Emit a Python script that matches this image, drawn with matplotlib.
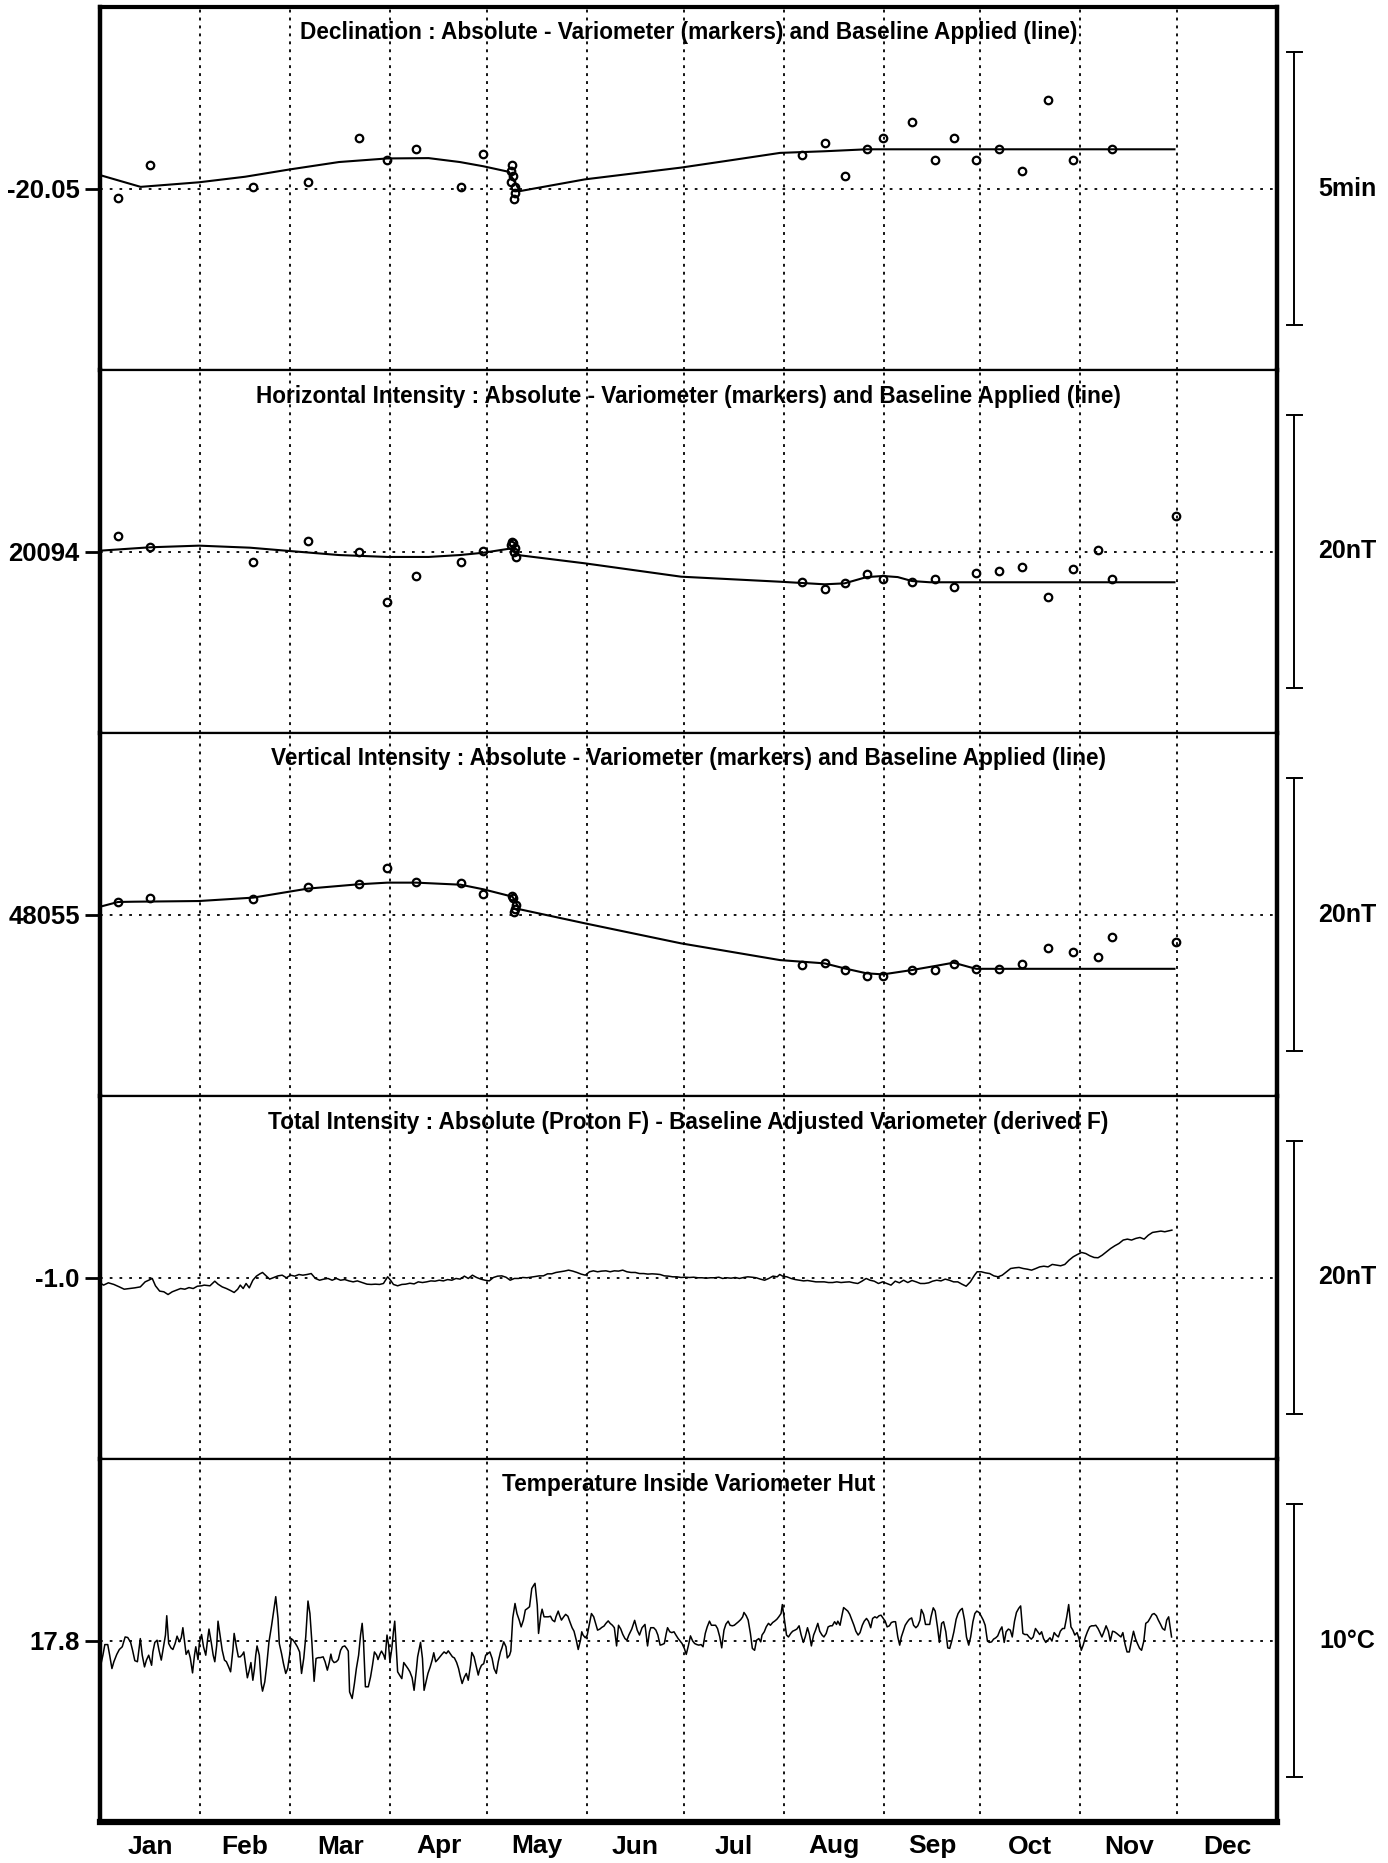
import matplotlib
matplotlib.use("Agg")
import matplotlib.pyplot as plt
import matplotlib.transforms as mtransforms

plt.rcParams['font.family'] = ['Liberation Sans', 'DejaVu Sans']
plt.rcParams['font.weight'] = 'bold'

months = ['Jan', 'Feb', 'Mar', 'Apr', 'May', 'Jun',
          'Jul', 'Aug', 'Sep', 'Oct', 'Nov', 'Dec']
month_starts = [0, 31, 59, 90, 120, 151, 181, 212, 243, 273, 304, 334, 365]

# Declination (degrees): absolute - variometer and applied baseline
d_days = [5.6, 15.6, 47.5, 64.4, 80.2, 89.1, 98.1, 111.8, 118.9,
          127.9, 127.6, 128.2, 127.4, 128.6, 128.7, 128.4,
          217.7, 224.7, 230.9, 237.7, 242.8, 251.8, 258.8, 264.7, 271.8,
          278.8, 285.8, 293.9, 301.7, 313.8]
d_vals = [-20.0530, -20.0429, -20.0496, -20.0479, -20.0346, -20.0413, -20.0380, -20.0496, -20.0395,
          -20.0429, -20.0446, -20.0462, -20.0479, -20.0496, -20.0513, -20.0531,
          -20.0396, -20.0362, -20.0462, -20.0380, -20.0345, -20.0296, -20.0413, -20.0345, -20.0413,
          -20.0380, -20.0446, -20.0228, -20.0413, -20.0380]
db_days = [0, 12.6, 30.7, 45.0, 58.6, 74.1, 89.1, 101.9, 111.6, 118.9, 126.8, 130.2,
           150.4, 180.2, 196.0, 210.9, 224.7, 237.8, 333.2]
db_vals = [-20.0459, -20.0495, -20.0481, -20.0464, -20.0442, -20.0419, -20.0408, -20.0407,
           -20.0419, -20.0432, -20.0449, -20.0508, -20.0472, -20.0436, -20.0413, -20.0391,
           -20.0386, -20.0380, -20.0380]

# Horizontal intensity (nT)
h_days = [5.6, 15.6, 47.5, 64.4, 80.2, 89.1, 98.1, 111.8, 118.9,
          127.9, 128.2, 127.6, 128.6, 128.4, 128.9,
          217.7, 224.7, 230.9, 237.7, 242.8, 251.8, 258.8, 264.7, 271.8,
          278.8, 285.8, 293.9, 301.7, 309.5, 313.8, 333.8]
h_vals = [20095.12, 20094.31, 20093.21, 20094.77, 20093.94, 20090.29, 20092.18, 20093.21, 20094.04,
          20094.72, 20094.60, 20094.46, 20094.28, 20093.99, 20093.62,
          20091.78, 20091.26, 20091.71, 20092.32, 20092.00, 20091.78, 20092.00, 20091.37, 20092.40,
          20092.59, 20092.86, 20090.68, 20092.69, 20094.09, 20092.00, 20096.59]
hb_days = [0, 15.6, 30.7, 46.5, 58.6, 74.1, 89.1, 101.9, 111.6, 118.9, 127.9, 129.6,
           150.4, 180.2, 210.9, 224.7, 230.9, 237.7, 242.8, 247.4, 251.8, 257.3, 333.2]
hb_vals = [20094.06, 20094.31, 20094.43, 20094.28, 20094.04, 20093.74, 20093.60, 20093.60,
           20093.74, 20093.91, 20094.24, 20093.74, 20093.13, 20092.15, 20091.78, 20091.59,
           20091.66, 20092.12, 20092.20, 20092.12, 20091.83, 20091.74, 20091.74]

# Vertical intensity (nT)
z_days = [5.6, 15.6, 47.5, 64.4, 80.2, 89.1, 98.1, 111.8, 118.9,
          127.9, 128.2, 129.0, 128.6, 128.4,
          217.7, 224.7, 230.9, 237.7, 242.8, 251.8, 258.8, 264.7, 271.8,
          278.8, 285.8, 293.9, 301.7, 309.5, 313.8, 333.8]
z_vals = [48055.92, 48056.24, 48056.12, 48057.02, 48057.24, 48058.42, 48057.39, 48057.32, 48056.51,
          48056.38, 48056.24, 48055.72, 48055.38, 48055.21,
          48051.31, 48051.46, 48050.92, 48050.48, 48050.48, 48050.92, 48050.92, 48051.34, 48051.01,
          48051.01, 48051.34, 48052.51, 48052.24, 48051.90, 48053.32, 48053.00]
zb_days = [0, 5.6, 10.5, 30.7, 47.5, 64.4, 80.2, 89.1, 98.1, 111.8, 118.9, 127.9, 130.2,
           150.4, 180.2, 210.9, 224.7, 230.9, 237.7, 242.8, 251.8, 258.8, 264.7, 269.9, 271.8, 333.2]
zb_vals = [48055.57, 48055.92, 48055.94, 48055.99, 48056.24, 48056.90, 48057.22, 48057.34,
           48057.34, 48057.19, 48056.85, 48056.31, 48055.38, 48054.35, 48052.88, 48051.65,
           48051.41, 48051.04, 48050.68, 48050.60, 48050.92, 48051.21, 48051.46, 48051.12,
           48051.01, 48051.01]

# Total intensity difference (nT)
f_days = [0.0, 1.1, 2.6, 4.3, 6.0, 7.5, 9.1, 10.8, 12.5, 14.0,
          15.1, 16.2, 17.2, 18.5, 19.8, 21.1, 22.4, 23.7, 25.0, 26.3,
          27.6, 28.9, 30.2, 31.5, 32.3, 34.1, 35.6, 36.6, 37.9, 39.2,
          40.5, 41.6, 42.7, 43.5, 44.4, 45.3, 46.3, 47.4, 48.5, 49.6,
          50.4, 51.3, 52.6, 53.9, 55.2, 56.5, 57.8, 59.1, 60.4, 61.7,
          62.9, 64.2, 65.5, 66.8, 68.1, 69.4, 70.7, 72.0, 73.3, 74.6,
          75.9, 77.2, 78.5, 79.8, 81.5, 82.8, 84.1, 85.4, 86.7, 87.9,
          89.2, 90.1, 91.0, 92.3, 93.6, 94.8, 96.1, 97.4, 98.7, 100.0,
          101.3, 102.6, 103.9, 105.2, 106.5, 107.8, 109.1, 110.4, 111.7, 113.0,
          114.2, 115.5, 116.8, 118.1, 119.4, 120.7, 122.0, 123.3, 124.6, 125.9,
          127.2, 128.5, 129.8, 131.1, 132.4, 133.6, 134.9, 136.2, 137.5, 138.8,
          140.1, 141.4, 142.7, 144.0, 145.3, 146.6, 147.9, 149.2, 150.5, 151.8,
          153.0, 154.3, 155.6, 156.9, 158.2, 159.5, 160.8, 162.1, 163.4, 164.7,
          166.0, 167.3, 168.6, 169.9, 171.2, 172.5, 173.7, 175.0, 176.3, 177.6,
          178.9, 180.2, 181.5, 182.8, 184.1, 185.4, 186.7, 188.0, 189.3, 190.6,
          191.9, 193.1, 194.4, 195.7, 197.0, 198.3, 199.6, 200.9, 202.2, 203.5,
          204.8, 206.1, 207.4, 208.7, 210.0, 210.8, 211.7, 213.0, 214.3, 215.6,
          216.9, 218.2, 219.4, 220.7, 222.0, 223.3, 224.6, 225.9, 227.2, 228.5,
          229.8, 231.1, 232.4, 233.7, 235.0, 236.3, 237.6, 238.8, 240.1, 241.4,
          242.7, 244.0, 245.3, 246.6, 247.9, 249.2, 250.5, 251.8, 253.1, 254.4,
          255.7, 257.0, 258.2, 259.5, 260.8, 262.1, 263.4, 264.7, 266.0, 267.3,
          268.6, 269.9, 271.2, 272.0, 273.3, 274.6, 275.9, 277.2, 278.5, 279.8,
          281.1, 282.4, 283.7, 285.0, 286.3, 287.6, 288.9, 290.2, 291.4, 292.7,
          294.0, 295.3, 296.6, 297.9, 299.2, 300.5, 301.8, 303.1, 304.4, 305.7,
          307.0, 308.3, 309.5, 310.8, 312.1, 313.4, 314.7, 316.0, 317.3, 318.6,
          319.9, 321.2, 322.5, 323.8, 325.1, 326.4, 327.7, 329.0, 330.2, 331.5,
          332.4]
f_vals = [-1.39, -1.56, -1.39, -1.51, -1.69, -1.86, -1.81, -1.76, -1.69, -1.32,
          -1.20, -1.07, -1.61, -2.00, -2.05, -2.25, -2.05, -1.93, -1.81, -1.86,
          -1.74, -1.81, -1.64, -1.61, -1.56, -1.61, -1.27, -1.49, -1.69, -1.81,
          -1.96, -2.10, -1.86, -1.56, -1.81, -1.44, -1.76, -1.20, -0.90, -0.73,
          -0.63, -0.83, -1.12, -1.00, -0.88, -0.83, -1.02, -0.83, -0.90, -0.78,
          -0.83, -0.78, -0.71, -1.07, -1.20, -1.12, -1.07, -1.20, -1.07, -1.20,
          -1.15, -1.25, -1.32, -1.25, -1.39, -1.49, -1.51, -1.49, -1.51, -1.44,
          -0.95, -1.20, -1.51, -1.61, -1.51, -1.49, -1.42, -1.47, -1.32, -1.37,
          -1.32, -1.25, -1.27, -1.20, -1.25, -1.15, -1.20, -1.07, -1.12, -0.90,
          -1.07, -0.83, -1.00, -1.12, -1.20, -1.25, -1.00, -0.90, -0.88, -0.98,
          -1.20, -1.07, -1.07, -1.00, -1.02, -0.98, -0.93, -0.88, -0.88, -0.73,
          -0.73, -0.63, -0.58, -0.53, -0.46, -0.53, -0.63, -0.75, -0.83, -0.58,
          -0.51, -0.58, -0.53, -0.51, -0.58, -0.51, -0.53, -0.46, -0.58, -0.63,
          -0.63, -0.71, -0.71, -0.75, -0.73, -0.75, -0.78, -0.88, -0.90, -0.95,
          -0.95, -1.00, -0.98, -1.00, -0.98, -1.02, -1.02, -1.05, -1.02, -1.02,
          -0.98, -1.07, -1.02, -1.05, -1.00, -1.07, -1.00, -0.95, -0.98, -1.02,
          -1.12, -1.20, -1.07, -0.90, -0.95, -0.78, -0.90, -0.95, -1.07, -1.15,
          -1.20, -1.25, -1.22, -1.27, -1.32, -1.32, -1.32, -1.37, -1.37, -1.32,
          -1.37, -1.34, -1.32, -1.39, -1.44, -1.27, -1.07, -1.20, -1.27, -1.44,
          -1.32, -1.44, -1.56, -1.27, -1.39, -1.20, -1.37, -1.22, -1.32, -1.44,
          -1.44, -1.39, -1.27, -1.20, -1.25, -1.12, -1.20, -1.32, -1.32, -1.49,
          -1.64, -1.32, -0.83, -0.58, -0.58, -0.66, -0.71, -0.88, -0.95, -0.83,
          -0.58, -0.34, -0.29, -0.26, -0.34, -0.39, -0.46, -0.34, -0.22, -0.17,
          -0.22, -0.04, -0.09, -0.14, -0.04, 0.27, 0.52, 0.69, 0.84, 0.76,
          0.59, 0.47, 0.45, 0.64, 0.89, 1.13, 1.33, 1.50, 1.75, 1.82,
          1.75, 1.87, 1.94, 1.82, 2.11, 2.31, 2.36, 2.41, 2.36, 2.43,
          2.48]

# Temperature inside variometer hut (deg C)
t_days = [0.0, 0.9, 1.5, 2.4, 3.0, 3.7, 4.3, 5.2, 6.0, 6.9,
          7.8, 8.6, 9.5, 10.1, 10.8, 11.6, 12.5, 13.1, 13.8, 14.4,
          15.1, 16.0, 16.4, 17.0, 17.7, 18.3, 19.0, 19.6, 20.3, 20.7,
          21.3, 22.0, 22.6, 23.3, 23.9, 24.6, 25.2, 25.7, 26.1, 26.7,
          27.4, 28.0, 28.7, 29.3, 29.7, 30.4, 30.8, 31.5, 32.1, 32.8,
          33.4, 33.8, 34.5, 35.1, 35.6, 36.2, 36.6, 37.3, 37.9, 38.6,
          39.2, 39.9, 40.5, 41.2, 41.6, 42.3, 42.9, 43.5, 44.2, 44.6,
          45.1, 45.7, 46.3, 46.8, 47.4, 47.9, 48.3, 48.7, 49.4, 50.0,
          50.4, 51.1, 51.7, 52.4, 53.2, 53.9, 54.5, 55.2, 55.6, 56.3,
          56.9, 57.6, 58.2, 58.8, 59.3, 59.9, 60.6, 61.2, 61.9, 62.5,
          63.2, 63.8, 64.5, 65.1, 65.7, 66.4, 67.0, 67.7, 68.3, 69.2,
          69.8, 70.5, 71.1, 71.6, 72.0, 72.6, 73.3, 73.9, 74.6, 75.2,
          75.9, 76.5, 77.0, 77.4, 78.2, 78.9, 79.5, 80.2, 80.8, 81.3,
          81.7, 82.3, 83.2, 83.9, 84.5, 85.1, 85.8, 86.2, 86.9, 87.3,
          88.0, 88.4, 89.0, 89.5, 89.9, 90.5, 91.0, 91.4, 91.8, 92.3,
          92.9, 93.6, 94.2, 94.8, 95.5, 96.1, 96.8, 97.4, 98.1, 98.5,
          98.9, 99.4, 100.0, 100.5, 101.1, 101.7, 102.4, 103.0, 103.5, 104.1,
          104.8, 105.4, 106.1, 106.7, 107.4, 108.0, 108.6, 109.3, 109.9, 110.6,
          111.2, 111.7, 112.3, 113.0, 113.6, 114.2, 114.9, 115.3, 116.0, 116.6,
          117.3, 117.7, 118.3, 119.0, 119.6, 120.3, 120.9, 121.6, 122.2, 122.9,
          123.5, 124.2, 124.6, 125.2, 125.9, 126.3, 127.0, 127.4, 128.0, 128.7,
          129.3, 130.0, 130.6, 131.3, 131.9, 132.6, 133.2, 133.9, 134.5, 134.9,
          135.6, 136.0, 136.7, 137.1, 137.7, 138.4, 139.0, 139.7, 140.3, 141.0,
          141.4, 142.1, 142.5, 143.1, 143.8, 144.4, 145.1, 145.7, 146.4, 147.0,
          147.7, 148.3, 149.0, 149.4, 149.8, 150.5, 151.1, 151.8, 152.4, 153.1,
          153.7, 154.3, 155.0, 155.6, 156.3, 156.9, 157.6, 158.2, 158.9, 159.5,
          160.2, 160.8, 161.5, 162.1, 162.8, 163.4, 164.0, 164.9, 165.8, 166.6,
          167.3, 168.1, 169.0,
          169.8, 170.4, 170.8, 171.7, 172.4, 173.0, 173.7, 174.3, 175.0, 175.6,
          176.0, 176.7, 177.3, 178.0, 178.6, 179.3, 179.9, 180.5, 181.2, 181.8,
          182.5, 183.1, 183.8, 184.4, 185.1, 185.7, 186.4, 187.0, 187.7, 188.3,
          189.0, 189.6, 190.2, 190.9, 191.5, 192.2, 192.8, 193.5, 194.1, 194.8,
          195.4, 196.1, 196.7, 197.4, 198.0, 198.7, 199.3, 199.7, 200.4, 201.0,
          201.7, 202.3, 203.0, 203.6, 204.3, 204.9, 205.3, 206.0, 206.6, 207.3,
          207.9, 208.6, 209.2, 209.9, 210.5, 211.2, 211.6, 212.2, 212.9, 213.5,
          214.2, 214.8, 215.5, 216.1, 216.8, 217.4, 218.1, 218.7, 219.4, 220.0,
          220.6, 221.3, 221.9, 222.6, 223.2, 223.9, 224.5, 225.2, 225.8, 226.5,
          227.1, 227.8, 228.4, 228.8, 229.5, 229.9, 230.6, 231.2, 231.9, 232.5,
          233.1, 233.8, 234.4, 235.1, 235.7, 236.4, 237.0, 237.7, 238.3, 239.0,
          239.6, 240.3, 240.9, 241.6, 242.2, 242.8, 243.5, 244.1, 244.8, 245.4,
          246.1, 246.7, 247.4, 248.0, 248.5, 249.1, 249.7, 250.4, 251.0, 251.7,
          252.3, 253.0, 253.6, 254.3, 254.7, 255.4, 256.0, 256.6, 257.3, 257.7,
          258.4, 259.0, 259.7, 260.3, 261.0, 261.6, 262.3, 262.9, 263.5, 264.2,
          264.8, 265.5, 266.1, 266.8, 267.4, 268.1, 268.7, 269.4, 270.0, 270.7,
          271.3, 271.9, 272.6, 273.2, 273.9, 274.5, 275.2, 275.8, 276.5, 277.1,
          277.8, 278.4, 279.1, 279.7, 280.4, 281.0, 281.7, 282.3, 282.9, 283.6,
          284.2, 284.9, 285.5, 286.2, 286.8, 287.5, 288.1, 288.8, 289.4, 290.1,
          290.7, 291.4, 292.0, 292.6, 293.3, 293.9, 294.6, 295.2, 295.9, 296.5,
          297.2, 297.8, 298.5, 299.1, 299.8, 300.4, 301.1, 301.7, 302.3, 303.0,
          303.6, 304.3, 304.9, 305.6, 306.2, 306.9, 307.5, 308.2, 308.8, 309.5,
          310.1, 310.7, 311.4, 312.0, 312.7, 313.3, 314.0, 314.6, 315.3, 315.9,
          316.6, 317.2, 317.9, 318.5, 319.2, 319.8, 320.5, 321.1, 321.7, 322.4,
          323.0, 323.7, 324.3, 325.0, 325.6, 326.3, 326.9, 327.6, 328.2, 328.9,
          329.5, 330.2, 330.8, 331.4, 332.1, 332.3]
t_vals = [16.77, 17.26, 17.65, 17.65, 17.26, 16.77, 17.02, 17.29, 17.47, 17.57,
          17.93, 17.91, 17.73, 17.44, 17.06, 17.02, 17.87, 17.26, 16.83, 17.08,
          17.26, 16.89, 17.38, 17.73, 17.81, 17.44, 17.08, 17.51, 18.00, 18.71,
          17.69, 17.53, 17.47, 17.69, 17.96, 17.75, 17.90, 18.27, 17.87, 17.29,
          17.44, 17.16, 16.61, 17.26, 17.57, 17.10, 17.69, 18.02, 17.57, 17.26,
          17.87, 18.22, 17.73, 17.26, 17.02, 17.63, 18.51, 17.93, 17.44, 17.08,
          17.02, 16.83, 16.65, 17.44, 18.06, 17.57, 17.20, 17.20, 17.29, 17.38,
          16.95, 16.43, 16.71, 16.99, 16.34, 16.77, 17.26, 17.60, 17.26, 16.22,
          15.94, 16.28, 16.89, 17.75, 18.34, 18.92, 19.41, 18.61, 17.69, 17.32,
          16.95, 16.59, 16.77, 17.26, 17.87, 17.81, 17.69, 17.57, 17.38, 16.59,
          17.16, 17.93, 19.25, 18.79, 17.75, 16.30, 17.14, 17.17, 17.17, 17.20,
          17.02, 16.71, 16.99, 17.30, 17.08, 16.99, 17.02, 17.10, 17.44, 17.57,
          17.60, 17.51, 17.41, 15.91, 15.67, 16.22, 16.77, 17.26, 18.00, 18.43,
          17.81, 16.10, 16.10, 16.46, 16.89, 17.38, 17.26, 17.10, 17.32, 17.41,
          17.26, 17.11, 18.00, 17.63, 17.02, 17.51, 18.12, 18.51, 17.69, 16.65,
          16.53, 16.40, 16.99, 16.89, 16.77, 16.65, 16.43, 15.97, 16.71, 17.20,
          17.44, 17.73, 17.14, 15.97, 16.28, 16.59, 16.83, 17.08, 17.35, 17.02,
          17.11, 17.20, 17.30, 17.38, 17.32, 17.42, 17.32, 17.20, 17.16, 16.99,
          16.77, 16.50, 16.22, 16.46, 16.59, 16.34, 16.89, 17.36, 17.20, 16.89,
          16.53, 16.73, 16.89, 16.95, 17.26, 17.32, 17.38, 17.14, 16.77, 16.59,
          17.02, 17.38, 17.51, 17.75, 17.57, 17.16, 17.26, 17.41, 18.63, 19.16,
          18.79, 18.55, 18.30, 18.55, 18.92, 18.98, 19.04, 19.71, 19.83, 19.90,
          19.10, 18.06, 18.73, 18.95, 18.67, 18.67, 18.67, 18.69, 18.55, 18.49,
          18.67, 18.88, 18.73, 18.55, 18.67, 18.76, 18.69, 18.49, 18.27, 18.14,
          17.81, 17.47, 17.81, 18.12, 18.00, 17.90, 18.00, 18.43, 18.79, 18.67,
          18.43, 18.18, 18.22, 18.28, 18.33, 18.43, 18.52, 18.43, 18.36, 18.27,
          17.60, 18.36, 18.22, 18.03, 17.87, 17.81, 18.00, 18.22, 18.54, 18.18,
          18.00, 18.27, 18.39,
          17.60, 18.12, 18.27, 18.27, 18.18, 18.00, 17.63, 17.65, 17.69, 18.06,
          18.27, 18.12, 18.09, 18.12, 18.00, 17.87, 17.78, 17.69, 17.51, 17.29,
          17.63, 17.97, 17.78, 17.69, 17.65, 17.63, 17.65, 17.57, 18.06, 18.30,
          18.51, 18.36, 18.36, 18.36, 18.24, 17.93, 17.53, 18.18, 18.40, 18.51,
          18.36, 18.34, 18.36, 18.43, 18.49, 18.57, 18.67, 18.83, 18.71, 18.55,
          18.06, 17.51, 17.44, 17.81, 17.87, 17.75, 18.00, 18.12, 18.30, 18.43,
          18.36, 18.46, 18.51, 18.58, 18.67, 18.79, 19.12, 18.61, 18.00, 17.93,
          18.06, 18.14, 18.18, 18.22, 18.34, 18.02, 17.73, 17.93, 18.27, 18.02,
          17.60, 18.00, 18.18, 18.43, 18.14, 18.00, 17.93, 18.06, 18.30, 18.34,
          18.34, 18.49, 18.39, 18.51, 18.36, 18.61, 19.01, 18.95, 18.88, 18.76,
          18.58, 18.36, 18.14, 18.00, 18.09, 18.36, 18.51, 18.61, 18.51, 18.27,
          18.61, 18.67, 18.63, 18.71, 18.73, 18.63, 18.51, 18.30, 18.34, 18.46,
          18.49, 18.49, 17.93, 17.63, 17.93, 18.14, 18.36, 18.49, 18.58, 18.63,
          18.36, 18.27, 18.34, 18.55, 18.94, 18.76, 18.39, 18.39, 18.39, 18.67,
          19.00, 18.88, 18.30, 17.73, 18.43, 18.49, 18.12, 17.53, 17.51, 17.81,
          18.12, 18.58, 18.79, 18.92, 18.98, 18.55, 17.93, 17.63, 17.93, 18.49,
          18.79, 18.88, 18.83, 18.71, 18.55, 18.36, 17.78, 17.73, 17.75, 17.85,
          17.90, 17.97, 18.18, 18.30, 17.73, 18.12, 18.22, 18.18, 17.93, 18.51,
          18.83, 18.98, 19.07, 18.06, 18.02, 18.02, 17.93, 17.85, 17.93, 18.24,
          18.14, 18.02, 18.12, 17.87, 17.73, 17.81, 17.90, 17.78, 18.09, 18.00,
          17.93, 18.14, 18.24, 18.24, 18.67, 19.12, 18.30, 18.18, 18.00, 18.09,
          17.87, 17.44, 17.63, 17.93, 18.12, 18.30, 18.34, 18.34, 18.36, 18.24,
          18.09, 17.93, 18.14, 18.34, 18.14, 17.78, 18.14, 18.12, 18.06, 18.00,
          17.93, 18.09, 17.65, 17.38, 17.38, 17.75, 18.14, 17.87, 17.69, 17.51,
          17.44, 17.78, 18.43, 18.49, 18.61, 18.76, 18.79, 18.71, 18.55, 18.39,
          18.24, 18.18, 18.55, 18.67, 18.09, 17.93]

panels = [
    dict(title='Declination : Absolute - Variometer (markers) and Baseline Applied (line)',
         centre=-20.05, label='-20.05', scale=5 / 60, unit='5min',
         marks=(d_days, d_vals), line=(db_days, db_vals)),
    dict(title='Horizontal Intensity : Absolute - Variometer (markers) and Baseline Applied (line)',
         centre=20094, label='20094', scale=20, unit='20nT',
         marks=(h_days, h_vals), line=(hb_days, hb_vals)),
    dict(title='Vertical Intensity : Absolute - Variometer (markers) and Baseline Applied (line)',
         centre=48055, label='48055', scale=20, unit='20nT',
         marks=(z_days, z_vals), line=(zb_days, zb_vals)),
    dict(title='Total Intensity : Absolute (Proton F) - Baseline Adjusted Variometer (derived F)',
         centre=-1.0, label='-1.0', scale=20, unit='20nT',
         marks=None, line=(f_days, f_vals)),
    dict(title='Temperature Inside Variometer Hut',
         centre=17.8, label='17.8', scale=10, unit='10°C',
         marks=None, line=(t_days, t_vals)),
]

fig = plt.figure(figsize=(13.88, 18.63), dpi=100)
left, width = 100 / 1388, 1177 / 1388
height = 363 / 1863

for i, p in enumerate(panels):
    bottom = (1863 - (7 + 363 * (i + 1))) / 1863
    ax = fig.add_axes([left, bottom, width, height])
    c, s = p['centre'], p['scale']
    ax.set_xlim(0, 365)
    ax.set_ylim(c - s * 2 / 3, c + s * 2 / 3)

    for m in month_starts[1:-1]:
        ax.axvline(m, color='black', lw=1.3, ls=(0, (1.6, 2.8)), zorder=1)
    ax.axhline(c, color='black', lw=1.3, ls=(0, (1.5, 3.9)), zorder=1)

    if p['marks'] is not None:
        ax.plot(p['marks'][0], p['marks'][1], 'o', ms=5.4, mfc='none',
                mec='black', mew=1.6, zorder=3)
        ax.plot(p['line'][0], p['line'][1], color='black', lw=1.5, zorder=2)
    else:
        ax.plot(p['line'][0], p['line'][1], color='black', lw=1.1, zorder=2)

    ax.text(0.5, 1 - 26 / 363, p['title'], transform=ax.transAxes,
            ha='center', va='center', fontsize=16.3, fontweight='bold')

    # left reference value
    ax.set_yticks([c])
    ax.set_yticklabels([p['label']])
    ax.tick_params(axis='y', length=11, width=2.0, pad=3.5, labelsize=18.5)

    # scale bar on the right
    trans = mtransforms.blended_transform_factory(ax.transAxes, ax.transData)
    ax.plot([1.0144, 1.0144], [c - s / 2, c + s / 2], color='black', lw=1.4,
            transform=trans, clip_on=False)
    for yy in (c - s / 2, c + s / 2):
        ax.plot([1.0085, 1.0212], [yy, yy], color='black', lw=1.4,
                transform=trans, clip_on=False)
    ax.text(1.0595, c, p['unit'], transform=trans, ha='center', va='center',
            fontsize=18, fontweight='bold')

    for side in ('left', 'right'):
        ax.spines[side].set_linewidth(3.2)
    ax.spines['top'].set_linewidth(3.0 if i == 0 else 1.6)
    ax.spines['bottom'].set_linewidth(4.5 if i == len(panels) - 1 else 1.6)

    if i == len(panels) - 1:
        mids = [(a + b) / 2 for a, b in zip(month_starts[:-1], month_starts[1:])]
        ax.set_xticks(mids)
        ax.set_xticklabels(months)
        ax.tick_params(axis='x', length=0, pad=9, labelsize=19)
    else:
        ax.set_xticks([])

fig.savefig('out.png', dpi=100)
